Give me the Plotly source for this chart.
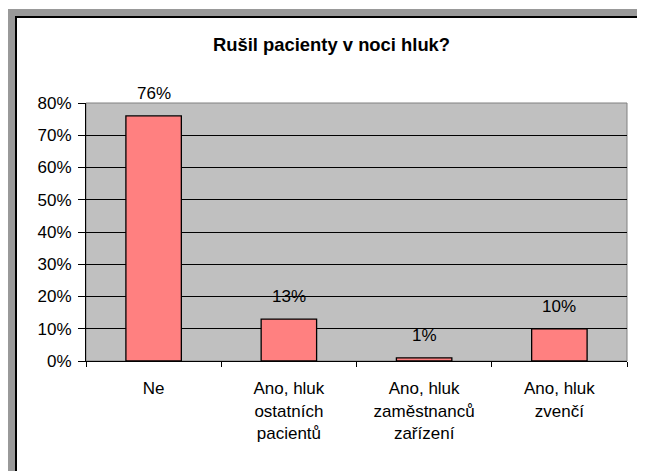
import plotly.graph_objects as go

categories = ["Ne", "Ano, hluk<br>ostatních<br>pacientů", "Ano, hluk<br>zaměstnanců<br>zařízení", "Ano, hluk<br>zvenčí"]
values = [0.76, 0.13, 0.01, 0.10]
labels = ["76%", "13%", "1%", "10%"]
title = "Rušil pacienty v noci hluk?"

# page body has an 8px margin, so the figure is laid out 8px left/up of the screen positions
OFF = 8
W, H = 645 - OFF, 471 - OFF
L, R, T, B = 86 - OFF, 627 - OFF, 103 - OFF, 361 - OFF
pw, ph = R - L, B - T

def px(x):
    return (x - OFF - L) / pw

def py(y):
    return (B - (y - OFF)) / ph

FONT = "Liberation Sans, Arial, sans-serif"

fig = go.Figure()
fig.add_trace(go.Bar(
    x=categories, y=values,
    marker=dict(color="#ff8080", line=dict(color="black", width=1.3)),
    width=0.41,
    hoverinfo="skip",
))

shapes = [
    dict(type="rect", xref="paper", yref="paper", x0=px(8), x1=px(700), y0=py(9), y1=py(520),
         fillcolor="#999999", line=dict(width=0), layer="below"),
    dict(type="rect", xref="paper", yref="paper", x0=px(16), x1=px(642), y0=py(17), y1=py(520),
         fillcolor="white", line=dict(color="black", width=2), layer="below"),
    dict(type="rect", xref="paper", yref="paper", x0=0, x1=1, y0=0, y1=1,
         fillcolor="#c0c0c0", line=dict(color="#808080", width=1), layer="below"),
]

annotations = [
    dict(x=c, y=v, text=t, xref="x", yref="y", showarrow=False, yanchor="bottom",
         yshift=11, font=dict(family=FONT, size=17, color="black"))
    for c, v, t in zip(categories, values, labels)
]
annotations.append(dict(
    x=px(331), y=py(44), xref="paper", yref="paper", text="<b>" + title + "</b>",
    showarrow=False, xanchor="center", yanchor="middle",
    font=dict(family=FONT, size=18.4, color="black"),
))

fig.update_layout(
    width=W, height=H,
    margin=dict(l=L, r=W - R, t=T, b=H - B, pad=0),
    paper_bgcolor="white",
    plot_bgcolor="rgba(0,0,0,0)",
    showlegend=False,
    shapes=shapes,
    annotations=annotations,
    font=dict(family=FONT, size=17, color="black"),
    xaxis=dict(
        showline=True, linecolor="black", linewidth=1,
        ticks="outside", ticklen=5, tickcolor="black", tickson="boundaries",
        ticklabelstandoff=12,
        showgrid=False, tickfont=dict(family=FONT, size=17, color="black"),
        fixedrange=True,
    ),
    yaxis=dict(
        range=[0, 0.8], dtick=0.1, tickformat=".0%",
        showline=True, linecolor="black", linewidth=1,
        ticks="outside", ticklen=7, tickcolor="black",
        ticklabelstandoff=3,
        showgrid=True, gridcolor="black", gridwidth=1,
        zeroline=False,
        tickfont=dict(family=FONT, size=17, color="black"),
        fixedrange=True,
    ),
)

fig.write_html("out.html")
